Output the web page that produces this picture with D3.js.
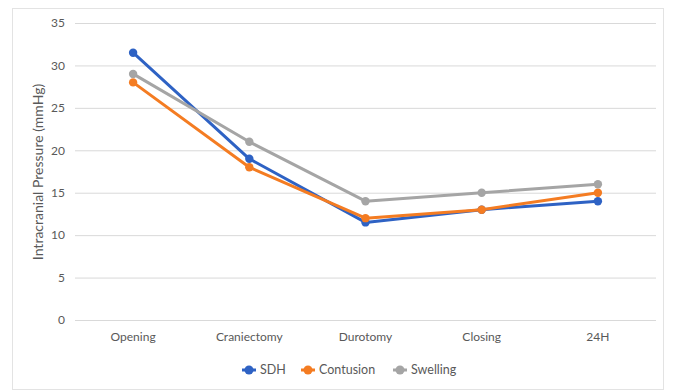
<!DOCTYPE html>
<html>
<head>
<meta charset="utf-8">
<script src="https://cdn.jsdelivr.net/npm/d3@7"></script>
<style>
  html, body { margin: 0; padding: 0; background: #fff; }
  svg { display: block; }
  text { font-family: Lato, "Open Sans", sans-serif; fill: #595959; }
</style>
</head>
<body>
<svg id="chart" width="674" height="391"></svg>
<script>
// Intracranial pressure by surgical stage
const categories = ["Opening", "Craniectomy", "Durotomy", "Closing", "24H"];
const sdh = [31.5, 19, 11.5, 13, 14];
const contusion = [28, 18, 12, 13, 15];
const swelling = [29, 21, 14, 15, 16];
const yTicks = [0, 5, 10, 15, 20, 25, 30, 35];
const seriesNames = ["SDH", "Contusion", "Swelling"];
const seriesColors = ["#2E62C4", "#F47C22", "#A5A5A5"];

const series = [sdh, contusion, swelling].map((values, i) => ({
  name: seriesNames[i], color: seriesColors[i], values
}));

const svg = d3.select("#chart");

// outer frame
svg.append("rect")
  .attr("x", 12.5).attr("y", 8.5)
  .attr("width", 651).attr("height", 381)
  .attr("fill", "#fff").attr("stroke", "#E3E3E3").attr("stroke-width", 1);

const plot = { left: 75, right: 656, top: 23, bottom: 320 };

const x = d3.scaleBand().domain(categories).range([plot.left, plot.right]);
const y = d3.scaleLinear().domain([0, 35]).range([plot.bottom, plot.top]);

// horizontal gridlines + y labels
const yAxis = d3.axisLeft(y).tickValues(yTicks)
  .tickSize(-(plot.right - plot.left)).tickPadding(10);
const gy = svg.append("g").attr("transform", `translate(${plot.left},0)`).call(yAxis);
gy.select(".domain").remove();
gy.selectAll(".tick line").attr("stroke", "#D9D9D9").attr("stroke-width", 1);
gy.selectAll(".tick text").style("font-size", "12px").attr("fill", "#595959");

// category labels
const xAxis = d3.axisBottom(x).tickSize(0).tickPadding(12);
const gx = svg.append("g").attr("transform", `translate(0,${plot.bottom})`).call(xAxis);
gx.select(".domain").remove();
gx.selectAll(".tick text").style("font-size", "12px").attr("fill", "#595959");

// y axis title
svg.append("text")
  .attr("transform", "translate(43,172) rotate(-90)")
  .attr("text-anchor", "middle")
  .style("font-size", "14px")
  .text("Intracranial Pressure (mmHg)");

// lines and markers
const line = d3.line()
  .x((d, i) => x(categories[i]) + x.bandwidth() / 2)
  .y(d => y(d));

const gs = svg.append("g").selectAll("g").data(series).join("g");
gs.append("path")
  .attr("d", d => line(d.values))
  .attr("fill", "none")
  .attr("stroke", d => d.color)
  .attr("stroke-width", 3)
  .attr("stroke-linejoin", "round");
gs.selectAll("circle")
  .data(d => d.values.map((v, i) => ({ v, i, color: d.color })))
  .join("circle")
  .attr("cx", d => x(categories[d.i]) + x.bandwidth() / 2)
  .attr("cy", d => y(d.v))
  .attr("r", 4.2)
  .attr("fill", d => d.color);

// legend
const legendX = [249, 308, 400];
const legendY = 370;
const lg = svg.append("g").selectAll("g").data(series).join("g")
  .attr("transform", (d, i) => `translate(${legendX[i]},${legendY})`);
lg.append("line")
  .attr("x1", -7).attr("x2", 7)
  .attr("stroke", d => d.color).attr("stroke-width", 3);
lg.append("circle").attr("r", 4.5).attr("fill", d => d.color);
lg.append("text")
  .attr("x", 11).attr("dy", "0.35em")
  .style("font-size", "12.5px")
  .text(d => d.name);
</script>
</body>
</html>
